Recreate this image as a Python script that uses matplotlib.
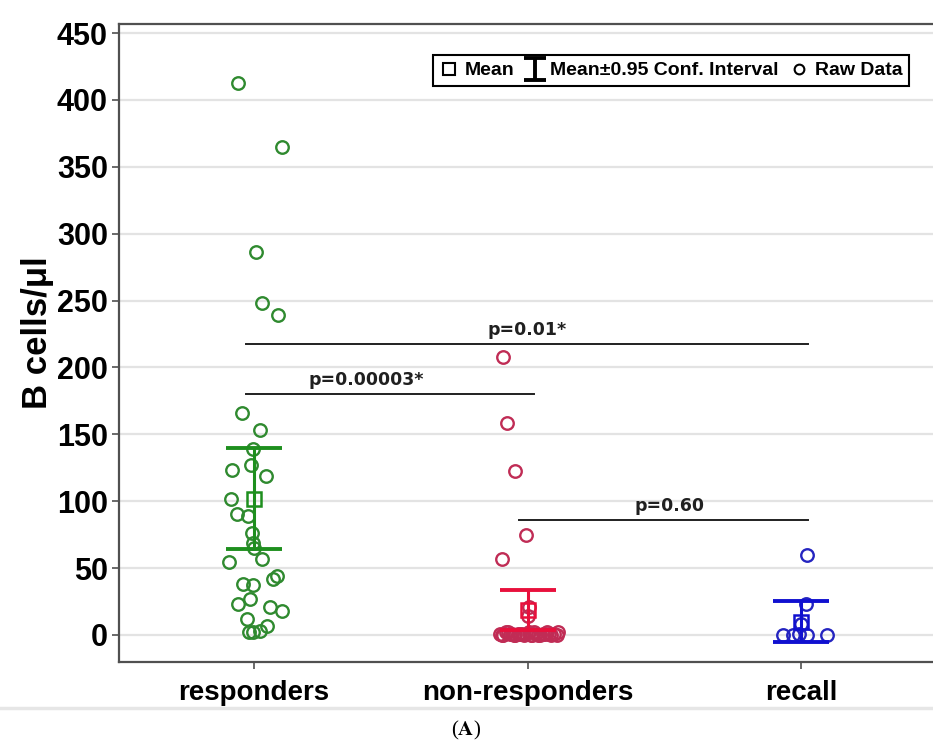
import matplotlib
matplotlib.use("Agg")
import matplotlib.pyplot as plt
from matplotlib.lines import Line2D
from matplotlib.path import Path

plt.rcParams['font.family'] = ['Liberation Sans', 'DejaVu Sans']
plt.rcParams['mathtext.fontset'] = 'stix'

# ---------------- data ----------------
categories = ["responders", "non-responders", "recall"]

resp_vals = [413, 365, 286, 248.5, 239, 165.6, 153.5, 139, 127, 123, 118.6, 102,
             90.8, 88.8, 75.9, 68.4, 64.7, 56.7, 54.7, 44, 41.8, 38, 37.3, 26.6,
             23.1, 21.1, 18.1, 11.7, 6.7, 2.5, 3.2, 2]
resp_jit = [-0.059, 0.102, 0.007, 0.029, 0.088, -0.045, 0.022, -0.005, -0.011, -0.079,
            0.043, -0.085, -0.063, -0.021, -0.008, -0.005, 0.0, 0.028, -0.090, 0.083,
            0.071, -0.039, -0.003, -0.015, -0.057, 0.058, 0.101, -0.027, 0.046, -0.017,
            0.022, -0.004]

nonr_vals = [207.7, 158.7, 122.4, 74.6, 56.7, 21, 14,
             1, 0, 2, 1, 0, 1, 0, 2, 0, 1, 0, 1, 2, 0, 1, 0, 2, 1, 0, 1,
             0, 2, 1, 0, 1, 0, 2, 1]
nonr_jit = [-0.088, -0.076, -0.046, -0.007, -0.094, 0.005, 0.002,
            -0.100, -0.088, -0.071, -0.058, -0.044, -0.027, -0.012, 0.004, 0.018,
            0.031, 0.047, 0.058, 0.072, 0.086, 0.097, 0.109, 0.112, -0.034, 0.040, 0.064,
            -0.094, -0.080, -0.064, -0.051, -0.019, 0.011, 0.025, 0.079]

recall_vals = [60, 23, 8, 0, 0, 1, 0, 0]
recall_jit = [0.021, 0.018, 0.0, -0.067, -0.028, -0.006, 0.021, 0.094]

means = [102, 18.7, 10]
ci_low = [64, 3.4, -5.5]
ci_high = [140, 34, 25.5]

point_colors = ["#2f8a2f", "#c02c55", "#2424c0"]
ci_colors = ["#1e8f1e", "#e8103c", "#1010d0"]

# significance brackets: (x_from, x_to, y, label, label_x)
brackets = [
    (0, 1, 180, "p=0.00003*", 0.41),
    (0, 2, 217.5, "p=0.01*", 1.0),
    (1, 2, 85.8, "p=0.60", 1.52),
]

yticks = [0, 50, 100, 150, 200, 250, 300, 350, 400, 450]

# ---------------- figure ----------------
W, H = 933, 747
fig = plt.figure(figsize=(W / 100, H / 100), dpi=100)
ax = fig.add_axes([119 / W, (H - 662) / H, (933 - 119) / W, (662 - 24) / H])

ax.set_xlim(-0.494, 2.483)
ax.set_ylim(-20.2, 456.8)

ax.set_yticks(yticks)
ax.set_yticklabels([str(t) for t in yticks], fontsize=22, fontweight='bold')
ax.set_xticks(range(len(categories)))
ax.set_xticklabels(categories, fontsize=20, fontweight='bold')
ax.tick_params(axis='y', length=5, width=1.2, color='#505050', pad=3)
ax.tick_params(axis='x', length=5, width=1.2, color='#505050', pad=8)

ax.grid(axis='y', color='#e3e3e3', lw=1.6)
ax.set_axisbelow(True)
for s in ['left', 'bottom', 'top']:
    ax.spines[s].set_color('#505050')
    ax.spines[s].set_linewidth(1.6)
ax.spines['right'].set_visible(False)

ax.set_ylabel("B cells/μl", fontsize=25, fontweight='bold')
ax.yaxis.set_label_coords(-0.080, 0.517)

groups = [(resp_vals, resp_jit), (nonr_vals, nonr_jit), (recall_vals, recall_jit)]
for i, (vals, jit) in enumerate(groups):
    xs = [i + j for j in jit]
    ax.plot(xs, vals, marker='o', ls='none', mfc='none', mec=point_colors[i],
            ms=9, mew=1.7, zorder=3)
    ax.errorbar([i], [means[i]],
                yerr=[[means[i] - ci_low[i]], [ci_high[i] - means[i]]],
                fmt='none', ecolor=ci_colors[i], elinewidth=2.2, capsize=20,
                capthick=2.8, zorder=4)
    ax.plot([i], [means[i]], marker='s', ls='none', mfc='none', mec=ci_colors[i],
            ms=10, mew=1.8, zorder=5)

for (a, b, y, lab, lx) in brackets:
    ax.plot([a - 0.03, b + 0.025], [y, y], color='#202020', lw=1.4, zorder=2)
    ax.text(lx, y + 4, lab, ha='center', va='bottom', fontsize=12.5,
            fontweight='bold', family='DejaVu Sans', color='#202020')

# legend
ibeam = Path([(-1, 1), (1, 1), (0, 1), (0, -1), (-1, -1), (1, -1)],
             [Path.MOVETO, Path.LINETO, Path.MOVETO, Path.LINETO, Path.MOVETO, Path.LINETO])
handles = [
    Line2D([], [], marker='s', ls='none', mfc='none', mec='black', ms=9, mew=1.5),
    Line2D([], [], marker=ibeam, ls='none', mfc='none', mec='black', ms=16, mew=2.8),
    Line2D([], [], marker='o', ls='none', mfc='none', mec='black', ms=7, mew=1.5),
]
labels = ["Mean", "Mean±0.95 Conf. Interval", "Raw Data"]
leg = ax.legend(handles, labels, ncol=3, loc='upper right',
                bbox_to_anchor=(909 / W, 1 - 55 / H), bbox_transform=fig.transFigure,
                borderaxespad=0, frameon=True, fancybox=False, framealpha=1,
                edgecolor='black', handlelength=0.9, handletextpad=0.35,
                columnspacing=0.6, borderpad=0.35,
                prop={'weight': 'bold', 'size': 14})
leg.get_frame().set_linewidth(1.5)

# bottom separator and panel label
fig.add_artist(Line2D([0, 1], [1 - 708 / H, 1 - 708 / H], color='#e6e6e6', lw=2.5,
                      transform=fig.transFigure))
fig.text(466 / W, 1 - 730 / H, r'($\mathbf{A}$)', ha='center', va='center',
         fontsize=15, family='Liberation Serif')

fig.savefig("out.png", dpi=100)
